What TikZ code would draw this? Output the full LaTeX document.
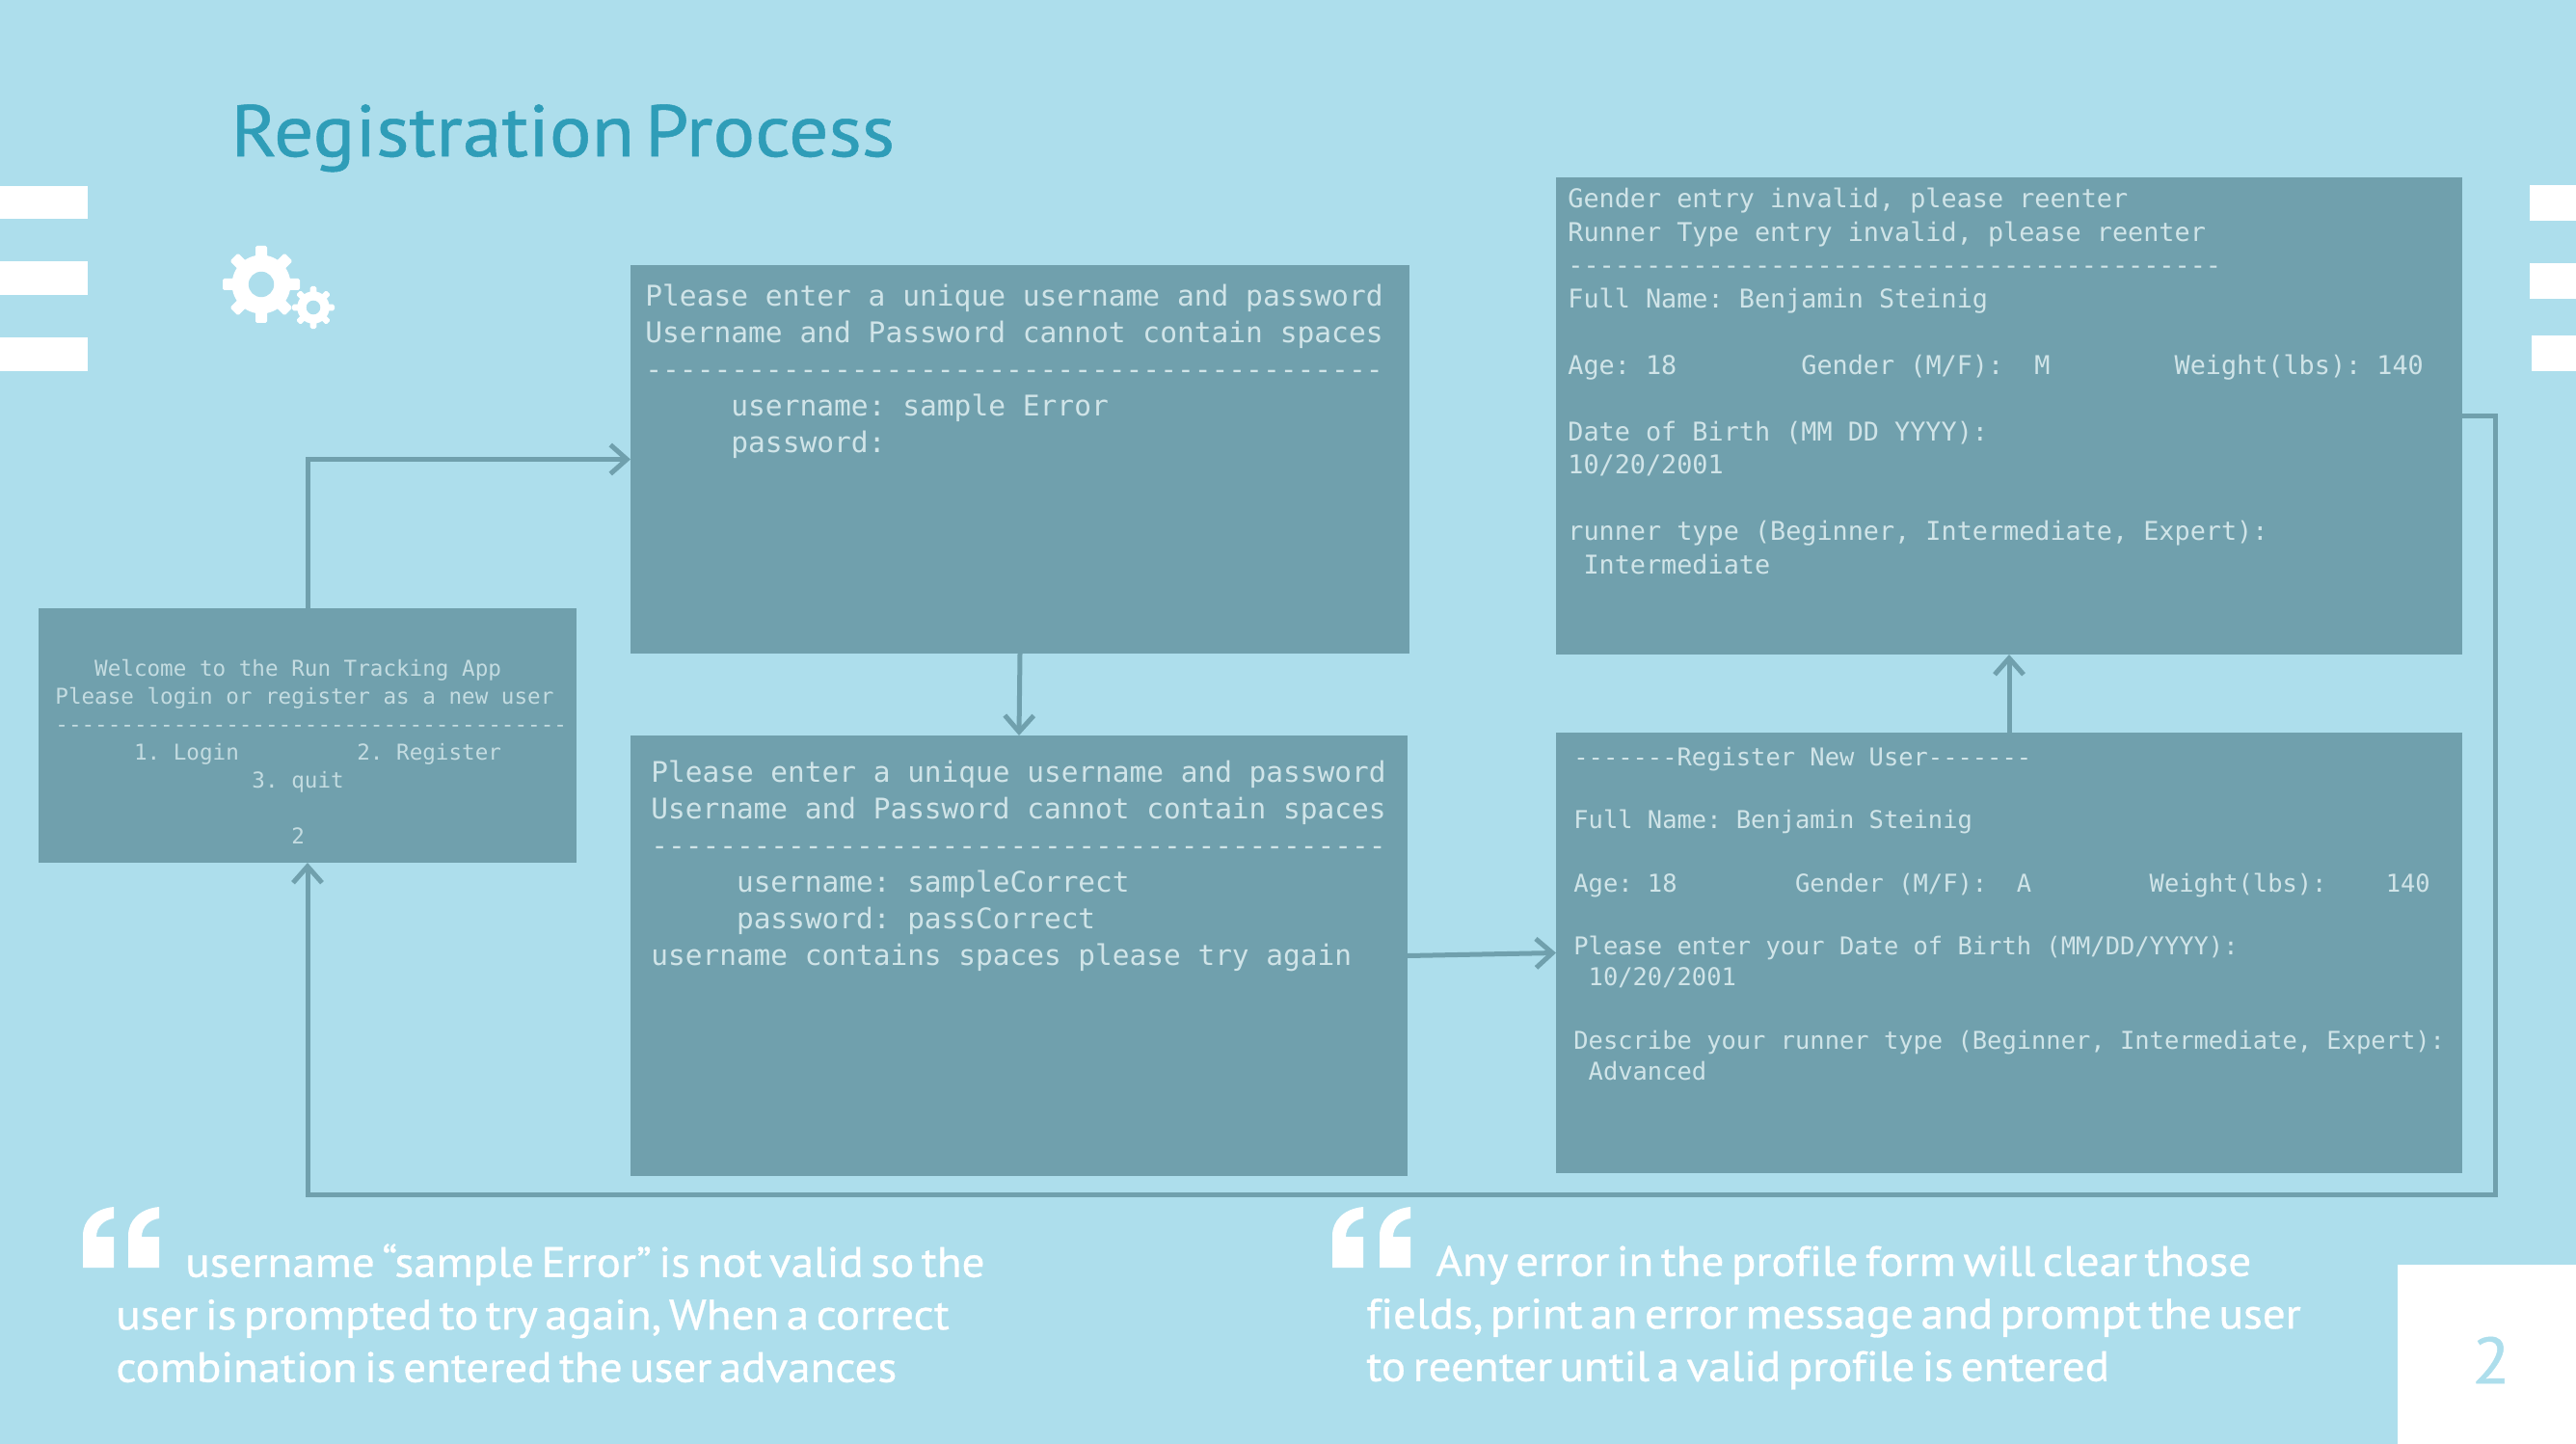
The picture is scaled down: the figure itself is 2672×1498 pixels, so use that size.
\documentclass[tikz,border=0pt]{standalone}
\usepackage{fontspec}
\usepackage{xcolor}
\usepackage{tikz}
\usetikzlibrary{calc,arrows.meta,positioning}
\frenchspacing
\newfontfamily\termfont{DejaVu Sans Mono}
\newfontfamily\titlefont{PT Sans}[FakeStretch=1.073,FakeBold=0.7,WordSpace=0.5]
\newfontfamily\slidefont{PT Sans}[FakeStretch=1.07,FakeBold=0.7,WordSpace=0.6,Ligatures=NoCommon]
\definecolor{pageBlue}{RGB}{173,222,236}
\definecolor{boxTeal}{RGB}{112,160,173}
\definecolor{titleTeal}{RGB}{47,157,184}
\definecolor{termText}{RGB}{208,228,232}
\definecolor{loginText}{RGB}{196,220,225}
\tikzset{
    termbox/.style={fill=boxTeal, inner sep=0pt, outer sep=0pt, anchor=north west},
    termtext/.style={anchor=north west, inner sep=0pt, align=left, text=termText},
    quotetext/.style={anchor=north west, inner sep=0pt, align=left, text=white},
    flowline/.style={draw=boxTeal, line width=2.5pt},
    flowarrow/.style={flowline, -{Straight Barb[length=8.5pt,width=15pt,line width=2.5pt]}}
}
\newcommand{\termsize}[2]{\termfont\fontsize{#1}{#2}\selectfont}
\newcommand{\gearicon}[3]{%
    \fill[white] (#1,#2) circle ({0.76*#3});
    \foreach \ang in {0,45,...,315} {
        \fill[white, rounded corners=0.8pt, rotate around={\ang:(#1,#2)}]
            ({#1-0.15*#3},#2) rectangle ({#1+0.15*#3},{#2-#3});
    }
    \fill[pageBlue] (#1,#2) circle ({0.33*#3});
}
\begin{document}
\begin{tikzpicture}[x=0.5pt,y=-0.5pt]

    \useasboundingbox (0,0) rectangle (2672,1498);
    \fill[pageBlue] (0,0) rectangle (2672,1498);

    % Side tabs
    \foreach \ya/\yb in {193/227,271/306,350/385} {
        \fill[white] (0,\ya) rectangle (91,\yb);
    }
    \fill[white] (2624,192) rectangle (2672,229);
    \fill[white] (2624,273) rectangle (2672,310);
    \fill[white] (2626,348) rectangle (2672,385);
    \fill[white] (2487,1312) rectangle (2672,1498);

    % Title and gears
    \node[anchor=north west, inner sep=0pt, text=titleTeal,
        font=\titlefont\fontsize{38}{38}\selectfont] (title) at (239,108) {Registration Process};
    \gearicon{271}{295}{40}
    \gearicon{325}{319}{22}

    % Terminal boxes
    \node[termbox, minimum width=279pt, minimum height=132pt] (loginBox) at (40,631) {};
    \node[termbox, minimum width=404pt, minimum height=201.5pt] (userBox) at (654,275) {};
    \node[termbox, minimum width=403pt, minimum height=228.5pt] (retryBox) at (654,763) {};
    \node[termbox, minimum width=470pt, minimum height=247.5pt] (reenterBox) at (1614,184) {};
    \node[termbox, minimum width=470pt, minimum height=228.5pt] (profileBox) at (1614,760) {};

    \node[termtext, text=loginText, font=\termsize{11.3}{14.5}] (loginText) at (57,684) {%
        ~~~Welcome to the Run Tracking App\\
        Please login or register as a new user\\
        ---------------------------------------\\
        ~~~~~~1. Login~~~~~~~~~2. Register\\
        ~~~~~~~~~~~~~~~3. quit\\
        ~\\
        ~~~~~~~~~~~~~~~~~~2};
    \node[termtext, font=\termsize{14.78}{19}] (userText) at (669,294) {%
        Please enter a unique username and password\\
        Username and Password cannot contain spaces\\
        -------------------------------------------\\
        ~~~~~username: sample Error\\
        ~~~~~password:};
    \node[termtext, font=\termsize{14.72}{19}] (retryText) at (675,789) {%
        Please enter a unique username and password\\
        Username and Password cannot contain spaces\\
        -------------------------------------------\\
        ~~~~~username: sampleCorrect\\
        ~~~~~password: passCorrect\\
        username contains spaces please try again};
    \node[termtext, font=\termsize{13.4}{17.25}] (reenterText) at (1626,195) {%
        Gender entry invalid, please reenter\\
        Runner Type entry invalid, please reenter\\
        ------------------------------------------\\
        Full Name: Benjamin Steinig\\
        ~\\
        Age: 18~~~~~~~~Gender (M/F):~~M~~~~~~~~Weight(lbs): 140\\
        ~\\
        Date of Birth (MM DD YYYY):\\
        10/20/2001\\
        ~\\
        runner type (Beginner, Intermediate, Expert):\\
        ~Intermediate};
    \node[termtext, font=\termsize{12.72}{16.3}] (profileText) at (1632,775) {%
        -------Register New User-------\\
        ~\\
        Full Name: Benjamin Steinig\\
        ~\\
        Age: 18~~~~~~~~Gender (M/F):~~A~~~~~~~~Weight(lbs):~~~~140\\
        ~\\
        Please enter your Date of Birth (MM/DD/YYYY):\\
        ~10/20/2001\\
        ~\\
        Describe your runner type (Beginner, Intermediate, Expert):\\
        ~Advanced};

    % Connectors
    \coordinate (returnCorner) at (2588,1239);
    \draw[flowarrow] (loginBox.north) |- (userBox.west);
    \draw[flowarrow] (userBox.south) -- (retryBox.north);
    \draw[flowarrow] (retryBox.east) -- (profileBox.west);
    \draw[flowarrow] (profileBox.north) -- (reenterBox.south);
    \draw[flowarrow] (reenterBox.east) -| (returnCorner) -| (loginBox.south);

    % Quote marks
    \foreach \qx in {86,133,1382,1431} {
        \fill[white] (\qx,1315) -- (\qx,1282)
            .. controls (\qx,1266) and ({\qx+12},1254) .. ({\qx+32},1252)
            -- ({\qx+32},1264)
            .. controls ({\qx+23},1265) and ({\qx+14},1272) .. ({\qx+14},1283)
            -- ({\qx+32},1283) -- ({\qx+32},1315) -- cycle;
    }

    % Quotes
    \node[quotetext, font=\slidefont\fontsize{22}{27.25}\selectfont] (leftQuote) at (120,1290) {%
        \hspace{36pt}username “sample Error” is not valid so the\\
        user is prompted to try again, When a correct\\
        combination is entered the user advances};
    \node[quotetext, font=\slidefont\fontsize{22}{27.25}\selectfont] (rightQuote) at (1417,1292) {%
        \hspace{36pt}Any error in the profile form will clear those\\
        fields, print an error message and prompt the user\\
        to reenter until a valid profile is entered};

    \node[inner sep=0pt, text=pageBlue, font=\titlefont\fontsize{34}{34}\selectfont] (pageNo) at (2584,1411) {2};

\end{tikzpicture}
\end{document}
